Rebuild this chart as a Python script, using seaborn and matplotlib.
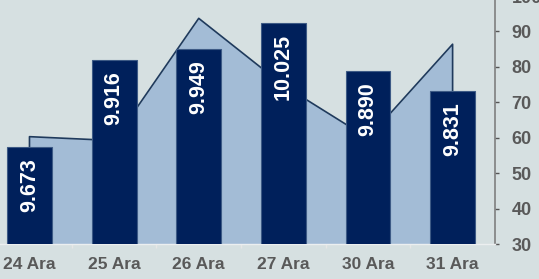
import seaborn as sns
import matplotlib.pyplot as plt
import pandas as pd

# datos
dias = ['24 Ara', '25 Ara', '26 Ara', '27 Ara', '30 Ara', '31 Ara']
barras = [57.3, 81.8, 85.0, 92.4, 78.8, 73.1]
etiquetas = ['9.673', '9.916', '9.949', '10.025', '9.890', '9.831']
alan = [60.3, 59.2, 93.7, 74.8, 59.9, 86.4]
y_ticks = [30, 40, 50, 60, 70, 80, 90, 100]

fondo = '#d6e0e1'
sns.set_theme(style='white', rc={'axes.facecolor': fondo, 'figure.facecolor': fondo})
plt.rcParams['font.family'] = ['Liberation Sans', 'DejaVu Sans']

df = pd.DataFrame({'dia': dias, 'barra': barras, 'alan': alan})

fig = plt.figure(figsize=(5.39, 2.79), dpi=100)
ax = fig.add_axes([-0.0238, 0.1254, 0.942, 0.8889])

# area de fondo
x = list(range(len(dias)))
ax.fill_between(x, 30, alan, color='#a3bcd6', lw=0, zorder=1)
ax.plot([x[0]] + x + [x[-1]], [30] + alan + [30], color='#1f3a5c', lw=1.2, zorder=1.5)

# barras
sns.barplot(data=df, x='dia', y='barra', width=0.53, color='#00205b', saturation=1,
            edgecolor='#3d5a85', linewidth=0.8, zorder=3, ax=ax)

for i, (v, t) in enumerate(zip(barras, etiquetas)):
    ax.annotate(t, (i, v), xytext=(0, -8), textcoords='offset points', rotation=90,
                ha='center', va='top', color='white', fontsize=15.5, fontweight='bold', zorder=4)

# ejes
ax.set_xlim(-0.5, 5.5)
ax.set_ylim(30, 100)
ax.yaxis.tick_right()
ax.set_yticks(y_ticks)
ax.set_xlabel('')
ax.set_ylabel('')
for s in ['top', 'left']:
    ax.spines[s].set_visible(False)
ax.spines['right'].set_color('#7f7f7f')
ax.spines['right'].set_linewidth(1.2)
ax.spines['bottom'].set_color('#eceff0')
ax.spines['bottom'].set_linewidth(1)

ax.tick_params(axis='y', which='major', direction='out', length=3, width=1, color='#555555',
               pad=9, labelsize=13, labelcolor='#595959', right=True)
ax.tick_params(axis='x', which='major', length=0, pad=9, labelsize=12.5, labelcolor='#595959')
ax.set_xticks([i + 0.5 for i in range(len(dias) - 1)], minor=True)
ax.tick_params(axis='x', which='minor', direction='out', length=3, color='#e6e6e6', bottom=True)
for lbl in ax.get_yticklabels() + ax.get_xticklabels():
    lbl.set_fontweight('bold')

fig.savefig('out.png', dpi=100, facecolor=fondo)
